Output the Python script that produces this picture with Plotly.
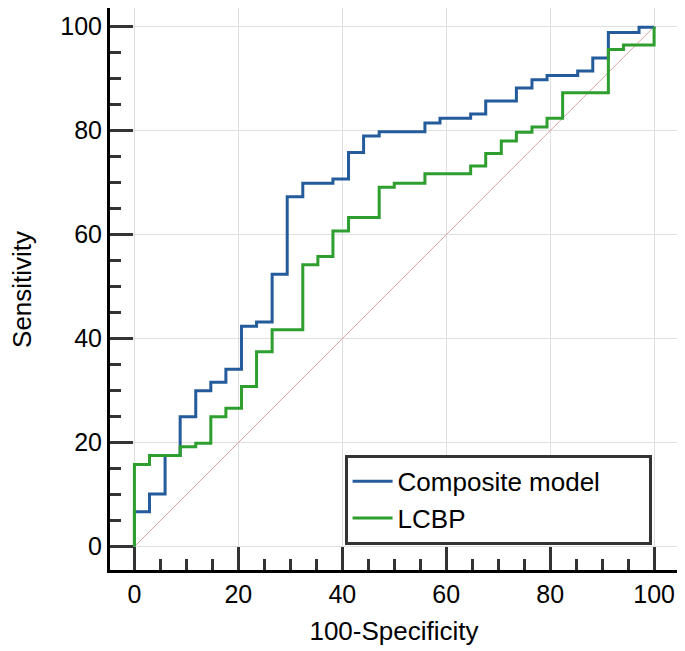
import plotly.graph_objects as go

# ROC corner points (x = 100-Specificity, y = Sensitivity)
composite_fpr = [0, 0, 2.9, 5.9, 8.8, 11.8, 14.7, 17.6, 20.6, 23.5, 26.5, 29.4, 32.4,
                 38.2, 41.2, 44.1, 47.1, 55.9, 58.8, 64.7, 67.6, 73.5, 76.5, 79.4,
                 85.3, 88.2, 91.2, 97.1, 100]
composite_tpr = [0, 6.7, 10.1, 17.5, 25.0, 30.0, 31.6, 34.1, 42.4, 43.2, 52.4, 67.3, 69.9,
                 70.7, 75.8, 79.0, 79.8, 81.5, 82.4, 83.2, 85.7, 88.2, 89.8, 90.6,
                 91.5, 94.0, 98.9, 99.9, 100]

lcbp_fpr = [0, 0, 2.9, 8.8, 11.8, 14.7, 17.6, 20.6, 23.5, 26.5, 32.4, 35.3, 38.2,
            41.2, 47.1, 50.0, 55.9, 64.7, 67.6, 70.6, 73.5, 76.5, 79.4, 82.4,
            91.2, 94.1, 100]
lcbp_tpr = [0, 15.8, 17.5, 19.2, 19.9, 25.0, 26.6, 30.8, 37.5, 41.7, 54.2, 55.8, 60.7,
            63.3, 69.1, 69.9, 71.7, 73.2, 75.6, 78.0, 79.7, 80.7, 82.4, 87.3,
            95.6, 96.5, 100]

chance_line = [0, 100]
tick_vals = [0, 20, 40, 60, 80, 100]

FONT = "Liberation Sans, Arial, sans-serif"
PAD = "\u00a0" * 6  # widens the legend box a bit, like the original

fig = go.Figure()

fig.add_trace(go.Scatter(
    x=chance_line, y=chance_line, mode="lines",
    line=dict(color="#dca3a3", width=1),
    showlegend=False, hoverinfo="skip",
))
fig.add_trace(go.Scatter(
    x=composite_fpr, y=composite_tpr, mode="lines", name="Composite model" + PAD,
    line=dict(color="#245b9b", width=3, shape="hv"),
))
fig.add_trace(go.Scatter(
    x=lcbp_fpr, y=lcbp_tpr, mode="lines", name="LCBP",
    line=dict(color="#2e9e2e", width=3, shape="hv"),
))

axis_common = dict(
    tickvals=tick_vals,
    automargin=False,
    showline=True, linecolor="black", linewidth=3,
    ticks="inside", ticklen=23, tickwidth=2.5, tickcolor="#333333",
    minor=dict(dtick=5, ticks="inside", ticklen=11, tickwidth=2.5,
               tickcolor="#333333", showgrid=False),
    showgrid=True, gridcolor="#e0e0e0", gridwidth=1,
    zeroline=False,
    tickfont=dict(size=25, color="black", family=FONT),
)

fig.update_xaxes(
    range=[-4.7, 104.6],
    title=dict(text="100-Specificity", font=dict(size=26, color="black", family=FONT)),
    ticklabelstandoff=0,
    **axis_common,
)
fig.update_yaxes(
    range=[-4.5, 103.6],
    ticklabelstandoff=0,
    **axis_common,
)

# y title as an annotation so it can sit further left than plotly places it
fig.add_annotation(
    text="Sensitivity", textangle=-90,
    xref="paper", yref="paper", x=-0.155, y=0.5,
    xanchor="center", yanchor="middle", showarrow=False,
    font=dict(size=26, color="black", family=FONT),
)

# the page puts the figure 8px in from the top-left corner, so size it to fit
fig.update_layout(
    width=677, height=643,
    margin=dict(l=102, r=7, t=0, b=81),
    plot_bgcolor="white", paper_bgcolor="white",
    font=dict(family=FONT, color="black"),
    legend=dict(
        x=0.413, y=0.205, xanchor="left", yanchor="top",
        bgcolor="white", bordercolor="#333333", borderwidth=3,
        font=dict(size=26, color="black", family=FONT),
        tracegroupgap=0, itemwidth=40,
    ),
)

fig.write_html("out.html")
